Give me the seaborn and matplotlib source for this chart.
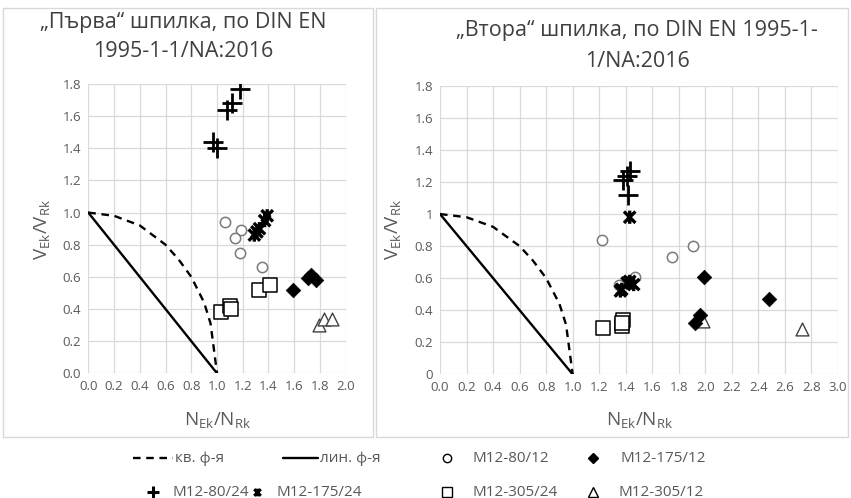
import numpy as np
import pandas as pd
import seaborn as sns
import matplotlib
matplotlib.use("Agg")
import matplotlib.pyplot as plt
from matplotlib.path import Path
from matplotlib.lines import Line2D
from matplotlib.patches import Rectangle

sns.set_theme(style="white")
plt.rcParams['font.family'] = ['Open Sans', 'DejaVu Sans']
plt.rcParams['mathtext.fontset'] = 'custom'
plt.rcParams['mathtext.rm'] = 'Open Sans'

# ---- interaction curves ----
quad_x = [0.0, 0.2, 0.4, 0.6, 0.7, 0.8, 0.9, 0.95, 1.0]
quad_y = [1.0, 0.98, 0.92, 0.80, 0.71, 0.60, 0.44, 0.31, 0.0]
lin_x = [0.0, 1.0]
lin_y = [1.0, 0.0]

# ---- left panel data ----
L_80_24_x = [1.18, 1.12, 1.08, 0.97, 1.00]
L_80_24_y = [1.77, 1.68, 1.64, 1.44, 1.40]
L_80_12_x = [1.06, 1.19, 1.14, 1.18, 1.35]
L_80_12_y = [0.94, 0.89, 0.84, 0.75, 0.66]
L_175_24_x = [1.29, 1.31, 1.33, 1.37, 1.39]
L_175_24_y = [0.86, 0.88, 0.90, 0.95, 0.98]
L_175_12_x = [1.59, 1.71, 1.73, 1.77]
L_175_12_y = [0.52, 0.59, 0.61, 0.58]
L_305_24_x = [1.03, 1.10, 1.11, 1.33, 1.41]
L_305_24_y = [0.38, 0.42, 0.40, 0.52, 0.55]
L_305_12_x = [1.79, 1.83, 1.89]
L_305_12_y = [0.30, 0.34, 0.34]

# ---- right panel data ----
R_80_24_x = [1.43, 1.41, 1.38, 1.42]
R_80_24_y = [1.27, 1.24, 1.21, 1.12]
R_80_12_x = [1.22, 1.75, 1.91, 1.47, 1.35]
R_80_12_y = [0.84, 0.73, 0.80, 0.61, 0.56]
R_175_24_x = [1.43, 1.37, 1.41, 1.43, 1.46, 1.36]
R_175_24_y = [0.98, 0.53, 0.57, 0.58, 0.56, 0.52]
R_175_12_x = [1.99, 2.48, 1.96, 1.92]
R_175_12_y = [0.61, 0.47, 0.37, 0.32]
R_305_24_x = [1.23, 1.37, 1.38, 1.37]
R_305_24_y = [0.29, 0.30, 0.34, 0.32]
R_305_12_x = [1.98, 2.73]
R_305_12_y = [0.33, 0.28]

titles = ["„Първа“ шпилка, по DIN EN\n1995-1-1/NA:2016",
          "„Втора“ шпилка, по DIN EN 1995-1-\n1/NA:2016"]
labels = ["кв. ф-я", "лин. ф-я", "M12-80/12", "M12-175/12",
          "M12-80/24", "M12-175/24", "M12-305/24", "M12-305/12"]

star = Path([(-1, -1), (1, 1), (-1, 1), (1, -1), (0, -1.15), (0, 1.15)],
            [Path.MOVETO, Path.LINETO, Path.MOVETO, Path.LINETO, Path.MOVETO, Path.LINETO])

styles = {
    "M12-80/24": dict(marker="+", s=190, color="black", linewidth=2.0),
    "M12-80/12": dict(marker="o", s=55, facecolor="white", edgecolor="#7a7a7a", linewidth=1.1),
    "M12-175/24": dict(marker=star, s=90, facecolor="none", edgecolor="black", linewidth=2.4),
    "M12-175/12": dict(marker="D", s=55, color="black", edgecolor="black", linewidth=0.5),
    "M12-305/24": dict(marker="s", s=95, facecolor="white", edgecolor="black", linewidth=1.1),
    "M12-305/12": dict(marker="^", s=85, facecolor="white", edgecolor="#404040", linewidth=1.0),
}

W, H = 851, 498
fig = plt.figure(figsize=(W / 100, H / 100), dpi=100)

def fx(px):
    return px / W

def fy(py):
    return 1 - py / H

def frac_box(x0, y0, x1, y1):
    return [x0 / W, 1 - y1 / H, (x1 - x0) / W, (y1 - y0) / H]

# panel borders
for (x0, y0, x1, y1) in [(3, 8, 373, 437), (376, 8, 848, 437)]:
    fig.patches.append(Rectangle((x0 / W, 1 - y1 / H), (x1 - x0) / W, (y1 - y0) / H,
                                 transform=fig.transFigure, fill=False,
                                 edgecolor="#d9d9d9", linewidth=1.0))

ax1 = fig.add_axes(frac_box(88.3, 84.0, 345.7, 373.3))
ax2 = fig.add_axes(frac_box(440.0, 85.8, 838.0, 374.3))

panels = [
    (ax1, 2.0, "{:.1f}", {
        "M12-80/24": (L_80_24_x, L_80_24_y), "M12-80/12": (L_80_12_x, L_80_12_y),
        "M12-175/24": (L_175_24_x, L_175_24_y), "M12-175/12": (L_175_12_x, L_175_12_y),
        "M12-305/24": (L_305_24_x, L_305_24_y), "M12-305/12": (L_305_12_x, L_305_12_y)}),
    (ax2, 3.0, "{:g}", {
        "M12-80/24": (R_80_24_x, R_80_24_y), "M12-80/12": (R_80_12_x, R_80_12_y),
        "M12-175/24": (R_175_24_x, R_175_24_y), "M12-175/12": (R_175_12_x, R_175_12_y),
        "M12-305/24": (R_305_24_x, R_305_24_y), "M12-305/12": (R_305_12_x, R_305_12_y)}),
]

for ax, xmax, yfmt, series in panels:
    dfq = pd.DataFrame({"x": quad_x, "y": quad_y})
    dfl = pd.DataFrame({"x": lin_x, "y": lin_y})
    sns.lineplot(data=dfq, x="x", y="y", ax=ax, sort=False, color="black",
                 linestyle=(0, (3.2, 2.4)), linewidth=1.7)
    sns.lineplot(data=dfl, x="x", y="y", ax=ax, sort=False, color="black", linewidth=1.7)
    for name in ["M12-80/12", "M12-305/24", "M12-305/12", "M12-175/12", "M12-175/24", "M12-80/24"]:
        xs, ys = series[name]
        df = pd.DataFrame({"x": xs, "y": ys})
        sns.scatterplot(data=df, x="x", y="y", ax=ax, legend=False, zorder=3, **styles[name])
    xt = np.round(np.arange(0, xmax + 0.01, 0.2), 1)
    yt = np.round(np.arange(0, 1.81, 0.2), 1)
    ax.set_xlim(0, xmax)
    ax.set_ylim(0, 1.8)
    ax.set_xticks(xt)
    ax.set_yticks(yt)
    ax.set_xticklabels([f"{v:.1f}" for v in xt])
    ax.set_yticklabels([yfmt.format(v) for v in yt])
    ax.grid(True, color="#d9d9d9", linewidth=0.9)
    ax.set_axisbelow(True)
    for sp in ax.spines.values():
        sp.set_visible(False)
    ax.tick_params(axis="both", labelsize=9.5, colors="#595959", length=0, pad=5)
    ax.set_xlabel("")
    ax.set_ylabel("")

# titles
fig.text(fx(183), fy(37), titles[0], ha="center", va="center", fontsize=15.5,
         color="#404040", linespacing=1.45)
fig.text(fx(637), fy(46), titles[1], ha="center", va="center", fontsize=15.5,
         color="#404040", linespacing=1.6)

ylab = r"V$_{\mathregular{Ek}}$/V$_{\mathregular{Rk}}$"
xlab = r"N$_{\mathregular{Ek}}$/N$_{\mathregular{Rk}}$"
fig.text(fx(43), fy(229), ylab, rotation=90, ha="center", va="center", fontsize=13.5, color="#595959")
fig.text(fx(394), fy(229), ylab, rotation=90, ha="center", va="center", fontsize=13.5, color="#595959")
fig.text(fx(218), fy(421), xlab, ha="center", va="center", fontsize=13.5, color="#595959")
fig.text(fx(640), fy(421), xlab, ha="center", va="center", fontsize=13.5, color="#595959")

# legend (placed entry by entry, like the original)
leg_col = "#595959"
r1, r2 = 458, 492
fig.add_artist(Line2D([fx(133), fx(173)], [fy(r1), fy(r1)], color="black",
                      linestyle=(0, (3.2, 2.4)), linewidth=1.7, transform=fig.transFigure))
fig.add_artist(Line2D([fx(283), fx(318)], [fy(r1), fy(r1)], color="black",
                      linewidth=1.7, transform=fig.transFigure))
fig.add_artist(Line2D([fx(447)], [fy(r1)], linestyle="none", marker="o", markersize=6,
                      markerfacecolor="white", markeredgecolor="black", markeredgewidth=1.0,
                      transform=fig.transFigure))
fig.add_artist(Line2D([fx(593)], [fy(r1)], linestyle="none", marker="D", markersize=5,
                      color="black", transform=fig.transFigure))
fig.add_artist(Line2D([fx(153)], [fy(r2)], linestyle="none", marker="+", markersize=8,
                      markeredgewidth=2.2, color="black", transform=fig.transFigure))
fig.add_artist(Line2D([fx(257)], [fy(r2)], linestyle="none", marker=star, markersize=5.5,
                      markeredgewidth=2.2, color="black", markerfacecolor="none",
                      transform=fig.transFigure))
fig.add_artist(Line2D([fx(447)], [fy(r2)], linestyle="none", marker="s", markersize=7,
                      markerfacecolor="white", markeredgecolor="black", markeredgewidth=1.0,
                      transform=fig.transFigure))
fig.add_artist(Line2D([fx(593)], [fy(r2)], linestyle="none", marker="^", markersize=6.5,
                      markerfacecolor="white", markeredgecolor="black", markeredgewidth=1.0,
                      transform=fig.transFigure))
text_pos = [(175, r1), (320, r1), (472, r1), (620, r1),
            (173, r2), (277, r2), (472, r2), (619, r2)]
for lab, (px, py) in zip(labels, text_pos):
    fig.text(fx(px), fy(py), lab, ha="left", va="center", fontsize=11, color=leg_col)

fig.savefig("out.png", dpi=100)
